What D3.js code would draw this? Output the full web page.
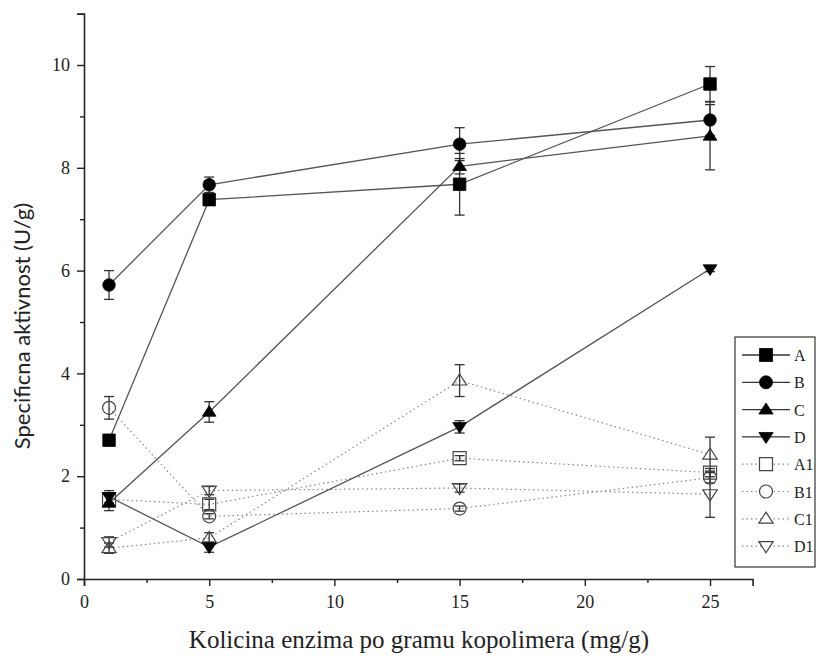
<!DOCTYPE html>
<html><head><meta charset="utf-8">
<script src="https://cdn.jsdelivr.net/npm/d3@7"></script>
<style>body{margin:0;background:#fff}svg{display:block}</style>
</head><body>
<svg id="c" width="819" height="661"></svg>
<script>
const xVals = [1, 5, 15, 25];
const seriesNames = ["A", "B", "C", "D", "A1", "B1", "C1", "D1"];
const A  = [2.70, 7.38, 7.68, 9.63];
const B  = [5.72, 7.67, 8.46, 8.93];
const C  = [1.48, 3.25, 8.03, 8.62];
const D  = [1.60, 0.62, 2.96, 6.03];
const A1 = [1.55, 1.45, 2.35, 2.07];
const B1 = [3.33, 1.22, 1.37, 1.97];
const C1 = [0.60, 0.80, 3.86, 2.42];
const D1 = [0.72, 1.72, 1.77, 1.65];
const errA  = [0.05, 0.10, 0.60, 0.34];
const errB  = [0.28, 0.15, 0.32, 0.30];
const errC  = [0.15, 0.20, 0.15, 0.66];
const errD  = [0.12, 0.10, 0.12, 0.05];
const errA1 = [0.12, 0.10, 0.05, 0.08];
const errB1 = [0.22, 0.05, 0.05, 0.10];
const errC1 = [0.10, 0.10, 0.31, 0.34];
const errD1 = [0.10, 0.08, 0.08, 0.45];
const xTicks = [0, 5, 10, 15, 20, 25];
const yTicks = [0, 2, 4, 6, 8, 10];
const xTitle = "Kolicina enzima po gramu kopolimera (mg/g)";
const yTitle = "Specificna aktivnost (U/g)";

const values = [A, B, C, D, A1, B1, C1, D1];
const errs = [errA, errB, errC, errD, errA1, errB1, errC1, errD1];
const shapes = ["square", "circle", "up", "down", "square", "circle", "up", "down"];
const filled = [true, true, true, true, false, false, false, false];

const svg = d3.select("#c");
const x = d3.scaleLinear().domain([0, 26.7]).range([84, 752.6]);
const y = d3.scaleLinear().domain([0, 11]).range([579, 13.6]);
const serif = "'Liberation Serif', 'DejaVu Serif', serif";

// axes
svg.append("g").attr("transform", "translate(0,579)")
  .call(d3.axisBottom(x).tickValues(xTicks).tickSize(7).tickPadding(9).tickFormat(d3.format("d")));
svg.append("g").attr("transform", "translate(0,579)")
  .call(d3.axisBottom(x).tickValues([2.5, 7.5, 12.5, 17.5, 22.5]).tickSize(4).tickFormat(""))
  .select(".domain").remove();
svg.append("g").attr("transform", "translate(84,0)")
  .call(d3.axisLeft(y).tickValues(yTicks).tickSize(7).tickPadding(7).tickFormat(d3.format("d")));
svg.append("g").attr("transform", "translate(84,0)")
  .call(d3.axisLeft(y).tickValues([1, 3, 5, 7, 9]).tickSize(4).tickFormat(""))
  .select(".domain").remove();
svg.selectAll(".domain").attr("stroke", "#222").attr("stroke-width", 1.6);
svg.selectAll(".tick line").attr("stroke", "#222").attr("stroke-width", 1.4);
svg.selectAll(".tick text").attr("font-family", serif).attr("font-size", 18).attr("fill", "#222");

svg.append("text").attr("x", 419).attr("y", 648).attr("text-anchor", "middle")
  .attr("font-family", serif).attr("font-size", 25).attr("fill", "#222").text(xTitle);
svg.append("text").attr("transform", "translate(30,326) rotate(-90)").attr("text-anchor", "middle")
  .attr("font-family", "Lato, 'Open Sans', sans-serif").attr("font-size", 22).attr("fill", "#222").text(yTitle);

function symPath(shape, s) {
  if (shape === "square") return d3.symbol(d3.symbolSquare, s * s)();
  if (shape === "circle") return d3.symbol(d3.symbolCircle, Math.PI * (s / 2) * (s / 2))();
  const h = s * 0.85, w = s * 0.55;
  if (shape === "up") return `M0,${-h * 0.6}L${w},${h * 0.4}L${-w},${h * 0.4}Z`;
  return `M0,${h * 0.6}L${w},${-h * 0.4}L${-w},${-h * 0.4}Z`;
}

const line = d3.line().x((d, i) => x(xVals[i])).y(d => y(d));

for (let k = 7; k >= 0; k--) {
  svg.append("path").attr("d", line(values[k])).attr("fill", "none")
    .attr("stroke", filled[k] ? "#555" : "#888")
    .attr("stroke-width", filled[k] ? 1.3 : 1.2)
    .attr("stroke-dasharray", filled[k] ? null : "1.5,3");
}
for (let k = 0; k < 8; k++) {
  values[k].forEach((v, i) => {
    const e = errs[k][i], cx = x(xVals[i]);
    const g = svg.append("g").attr("stroke", "#333").attr("stroke-width", 1.3);
    g.append("line").attr("x1", cx).attr("x2", cx).attr("y1", y(v - e)).attr("y2", y(v + e));
    [v - e, v + e].forEach(t => g.append("line").attr("x1", cx - 5).attr("x2", cx + 5).attr("y1", y(t)).attr("y2", y(t)));
  });
}
for (let k = 7; k >= 0; k--) {
  values[k].forEach((v, i) => {
    svg.append("path").attr("d", symPath(shapes[k], filled[k] ? 12.5 : 13))
      .attr("transform", `translate(${x(xVals[i])},${y(v)})`)
      .attr("fill", filled[k] ? "#000" : "#fff")
      .attr("fill-opacity", filled[k] ? 1 : 0)
      .attr("stroke", filled[k] ? "#000" : "#444").attr("stroke-width", filled[k] ? 0.8 : 1.2);
  });
}

const lg = svg.append("g");
lg.append("rect").attr("x", 735).attr("y", 337).attr("width", 80).attr("height", 230)
  .attr("fill", "#fff").attr("stroke", "#333").attr("stroke-width", 1.2);
seriesNames.forEach((n, k) => {
  const ly = 355 + k * 27.3;
  lg.append("line").attr("x1", 742).attr("x2", 790).attr("y1", ly).attr("y2", ly)
    .attr("stroke", filled[k] ? "#333" : "#888").attr("stroke-width", filled[k] ? 1.3 : 1.2)
    .attr("stroke-dasharray", filled[k] ? null : "1.5,3");
  lg.append("path").attr("d", symPath(shapes[k], 13)).attr("transform", `translate(766,${ly})`)
    .attr("fill", filled[k] ? "#000" : "#fff")
    .attr("stroke", filled[k] ? "#000" : "#444").attr("stroke-width", filled[k] ? 0.8 : 1.2);
  lg.append("text").attr("x", 794).attr("y", ly + 6).attr("font-family", serif)
    .attr("font-size", 16).attr("fill", "#222").text(n);
});
</script>
</body></html>
